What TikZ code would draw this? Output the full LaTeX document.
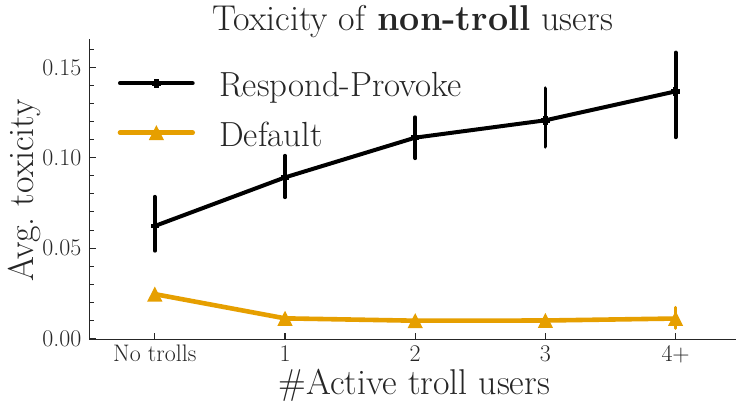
\documentclass[tikz,border=0pt]{standalone}
\definecolor{ink}{HTML}{262626}
\definecolor{org}{HTML}{E69F00}
\tikzset{
  spine/.style={draw=ink,line width=1.3bp},
  majortick/.style={draw=ink,line width=1.1bp},
  minortick/.style={draw=ink,line width=0.9bp},
  ticklabel/.style={text=ink,inner sep=0pt,font=\fontsize{24}{26}\selectfont},
  biglabel/.style={text=ink,inner sep=0pt,font=\fontsize{36}{40}\selectfont},
  legtext/.style={text=ink,inner sep=0pt,anchor=base west,font=\fontsize{35}{39}\selectfont},
  rpline/.style={draw=black,line width=4bp,line join=round,line cap=round},
  dfline/.style={draw=org,line width=4.6bp,line join=round,line cap=round},
  rperr/.style={draw=black,line width=3.8bp,line cap=round},
  dferr/.style={draw=org,line width=3bp,line cap=round},
  trimark/.pic={\fill[org] (0,7.6bp) -- (-7.6bp,-7.4bp) -- (7.6bp,-7.4bp) -- cycle;},
  plusmark/.pic={\fill[black] (-4.2bp,-2.2bp) rectangle (4.2bp,2.2bp);
                 \fill[black] (-2.2bp,-4.2bp) rectangle (2.2bp,4.2bp);}
}
\begin{document}
\begin{tikzpicture}[x=1bp,y=-1bp]
\useasboundingbox[fill=white] (0,0) rectangle (736,408);

% data coordinates
\begin{scope}[shift={(154.8,338.4)},x=130.2bp,y=1807bp]
  \coordinate (r0) at (0,0.0622); \coordinate (r0t) at (0,0.0784); \coordinate (r0b) at (0,0.0485);
  \coordinate (r1) at (1,0.0891); \coordinate (r1t) at (1,0.1011); \coordinate (r1b) at (1,0.0781);
  \coordinate (r2) at (2,0.1111); \coordinate (r2t) at (2,0.1224); \coordinate (r2b) at (2,0.0997);
  \coordinate (r3) at (3,0.1207); \coordinate (r3t) at (3,0.1384); \coordinate (r3b) at (3,0.1061);
  \coordinate (r4) at (4,0.1367); \coordinate (r4t) at (4,0.1582); \coordinate (r4b) at (4,0.1113);
  \coordinate (d0) at (0,0.0245);
  \coordinate (d1) at (1,0.0111);
  \coordinate (d2) at (2,0.0098);
  \coordinate (d3) at (3,0.0099);
  \coordinate (d4) at (4,0.0110); \coordinate (d4t) at (4,0.0172); \coordinate (d4b) at (4,0.0055);
\end{scope}

% default series
\draw[dfline] (d0) -- (d1) -- (d2) -- (d3) -- (d4);
\draw[dferr] (d4b) -- (d4t);
\foreach \i in {0,...,4} \pic at (d\i) {trimark};

% respond-provoke series
\draw[rpline] (r0) -- (r1) -- (r2) -- (r3) -- (r4);
\foreach \i in {0,...,4} {
  \draw[rperr] (r\i b) -- (r\i t);
  \pic at (r\i) {plusmark};
}

% spines
\coordinate (ytop) at (89.6,39.3);
\coordinate (origin) at (89.6,339.3);
\coordinate (xend) at (736,339.3);
\draw[spine] (ytop) -- (origin) -- (xend);

% y ticks (inward)
\foreach \v in {0.01,0.02,0.03,0.04,0.06,0.07,0.08,0.09,0.11,0.12,0.13,0.14,0.16}
  \draw[minortick] (89.6,{338.4-1807*\v}) -- ++(4.8,0);
\foreach \v/\t in {0/0.00,0.05/0.05,0.1/0.10,0.15/0.15} {
  \draw[majortick] (89.6,{338.4-1807*\v}) -- ++(6.5,0);
  \node[ticklabel,anchor=east] (yl\t) at (81.5,{338.4-1807*\v}) {\t};
}

% x ticks (inward) and labels
\foreach \i/\t in {0/No trolls,1/1,2/2,3/3,4/4+} {
  \draw[majortick] ({154.8+130.2*\i},339.3) -- ++(0,-6.3);
  \node[ticklabel,anchor=base] (xl\i) at ({154.8+130.2*\i},361.5) {\t};
}

% axis labels and title
\node[biglabel,anchor=base] (xlabel) at (414.2,394.3) {\#Active troll users};
\node[biglabel,anchor=base,rotate=90] (ylabel) at (33,190) {Avg.\ toxicity};
\node[biglabel,anchor=base] (title) at (412.7,30) {Toxicity of \textbf{non-troll} users};

% legend
\coordinate (la1) at (120,83.3); \coordinate (lb1) at (192.7,83.3); \coordinate (lm1) at (156.4,83.3);
\coordinate (la2) at (120,132.7); \coordinate (lb2) at (192.7,132.7); \coordinate (lm2) at (156.4,132.7);
\draw[rpline] (la1) -- (lb1);
\pic at (lm1) {plusmark};
\draw[dfline] (la2) -- (lb2);
\pic at (lm2) {trimark};
\node[legtext] (leg1) at (219,96.7) {Respond-Provoke};
\node[legtext] (leg2) at (219,146) {Default};
\end{tikzpicture}
\end{document}
